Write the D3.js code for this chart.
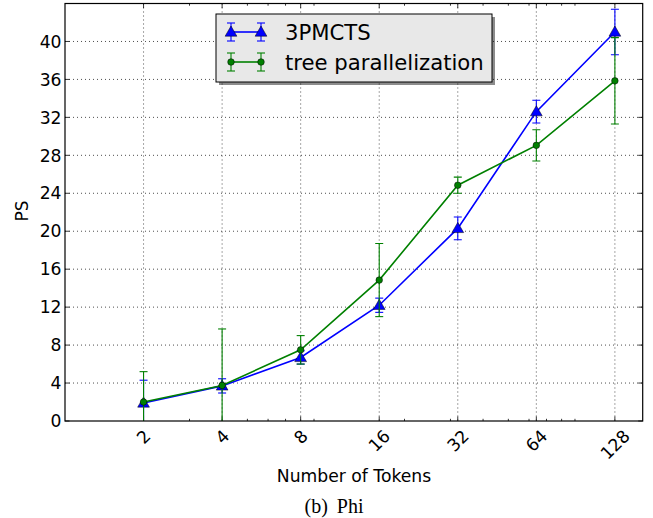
<!DOCTYPE html>
<html>
<head>
<meta charset="utf-8">
<script src="https://cdn.jsdelivr.net/npm/d3@7"></script>
<style>
  body { margin: 0; background: #fff; }
  text { font-family: "DejaVu Sans", sans-serif; }
</style>
</head>
<body>
<svg id="chart" width="653" height="518"></svg>
<script>
// data
var tokens = [2, 4, 8, 16, 32, 64, 128];
var mctsMean = [1.9, 3.7, 6.7, 12.2, 20.3, 32.6, 41.0];
var mctsErr = [2.4, 0.75, 0.7, 0.75, 1.2, 1.2, 2.4];
var treeMean = [2.0, 3.75, 7.5, 14.85, 24.85, 29.05, 35.85];
var treeErr = [3.2, 5.95, 1.5, 3.85, 0.85, 1.65, 4.55];
var yTicks = [0, 4, 8, 12, 16, 20, 24, 28, 32, 36, 40];
var xMinor = [3, 5, 6, 7, 9, 20, 30, 40, 50, 60, 70, 80, 90];

var series = [
    { name: "3PMCTS", color: "#0000ff", marker: "triangle", mean: mctsMean, err: mctsErr },
    { name: "tree parallelization", color: "#008000", marker: "circle", mean: treeMean, err: treeErr }
];

// plot box (note: "top" is taken by window.top)
var pLeft = 65, pRight = 642.7, pTop = 3.5, pBottom = 421;

var x = d3.scaleLog().base(2).domain([1, 163.6]).range([pLeft, pRight]);
var y = d3.scaleLinear().domain([0, 44]).range([pBottom, pTop]);

var svg = d3.select("#chart");

svg.append("clipPath").attr("id", "plotclip")
    .append("rect")
    .attr("x", pLeft).attr("y", pTop)
    .attr("width", pRight - pLeft).attr("height", pBottom - pTop);

// grid
var grid = svg.append("g")
    .attr("stroke", "#000")
    .attr("stroke-width", 0.7)
    .attr("stroke-dasharray", "1,3");
grid.selectAll("line.gx").data(tokens).enter().append("line")
    .attr("x1", function (d) { return x(d); }).attr("x2", function (d) { return x(d); })
    .attr("y1", pTop).attr("y2", pBottom);
grid.selectAll("line.gy").data(yTicks.slice(1)).enter().append("line")
    .attr("y1", function (d) { return y(d); }).attr("y2", function (d) { return y(d); })
    .attr("x1", pLeft).attr("x2", pRight);

// inward ticks on all four sides
var ticks = svg.append("g").attr("stroke", "#000").attr("stroke-width", 0.8);
tokens.forEach(function (t) {
    ticks.append("line").attr("x1", x(t)).attr("x2", x(t)).attr("y1", pBottom).attr("y2", pBottom - 4.5);
    ticks.append("line").attr("x1", x(t)).attr("x2", x(t)).attr("y1", pTop).attr("y2", pTop + 4.5);
});
xMinor.forEach(function (t) {
    ticks.append("line").attr("x1", x(t)).attr("x2", x(t)).attr("y1", pBottom).attr("y2", pBottom - 2.2);
    ticks.append("line").attr("x1", x(t)).attr("x2", x(t)).attr("y1", pTop).attr("y2", pTop + 2.2);
});
yTicks.forEach(function (v) {
    ticks.append("line").attr("x1", pLeft).attr("x2", pLeft + 4.5).attr("y1", y(v)).attr("y2", y(v));
    ticks.append("line").attr("x1", pRight).attr("x2", pRight - 4.5).attr("y1", y(v)).attr("y2", y(v));
});

// y tick labels
svg.append("g").selectAll("text").data(yTicks).enter().append("text")
    .attr("x", pLeft - 3.5)
    .attr("y", function (d) { return y(d); })
    .attr("dy", "0.36em")
    .attr("text-anchor", "end")
    .attr("font-size", 17.2)
    .text(function (d) { return d; });

// x tick labels, rotated 45 degrees, bbox centred under the tick
var xl = svg.append("g");
tokens.forEach(function (t) {
    var txt = xl.append("text")
        .attr("font-size", 17.2)
        .attr("text-anchor", "middle")
        .attr("dy", "0.36em")
        .text(t);
    var w = txt.node().getComputedTextLength();
    var h = 12.5;
    var half = (w + h) * Math.SQRT1_2 / 2;
    var cx = x(t), cy = 428.5 + half;
    txt.attr("transform", "translate(" + cx + "," + cy + ") rotate(-45)");
});

// axis labels
svg.append("text")
    .attr("transform", "translate(28,211) rotate(-90)")
    .attr("text-anchor", "middle")
    .attr("font-size", 17)
    .text("PS");
svg.append("text")
    .attr("x", 354).attr("y", 482)
    .attr("text-anchor", "middle")
    .attr("font-size", 17.2)
    .text("Number of Tokens");
svg.append("text")
    .attr("x", 334).attr("y", 513)
    .attr("text-anchor", "middle")
    .attr("font-size", 20)
    .attr("word-spacing", 4)
    .style("font-family", "'Liberation Serif', 'Times New Roman', serif")
    .text("(b) Phi");

var tri = d3.symbol().type(d3.symbolTriangle).size(60);

function drawMarker(g, s, cx, cy) {
    if (s.marker === "triangle") {
        g.append("path")
            .attr("d", tri())
            .attr("transform", "translate(" + cx + "," + (cy + 0.8) + ")")
            .attr("fill", s.color)
            .attr("stroke", "#000")
            .attr("stroke-width", 0.5);
    } else {
        g.append("circle")
            .attr("cx", cx).attr("cy", cy).attr("r", 3.3)
            .attr("fill", s.color)
            .attr("stroke", "#000")
            .attr("stroke-width", 0.5);
    }
}

function drawErr(g, s, cx, y1, y2) {
    g.append("line").attr("x1", cx).attr("x2", cx).attr("y1", y1).attr("y2", y2)
        .attr("stroke", s.color).attr("stroke-width", 1.1);
    [y1, y2].forEach(function (yy) {
        g.append("line").attr("x1", cx - 4).attr("x2", cx + 4).attr("y1", yy).attr("y2", yy)
            .attr("stroke", s.color).attr("stroke-width", 1.1);
    });
}

var plot = svg.append("g").attr("clip-path", "url(#plotclip)");
var line = d3.line()
    .x(function (d) { return x(d[0]); })
    .y(function (d) { return y(d[1]); });

series.forEach(function (s) {
    var g = plot.append("g");
    var pts = tokens.map(function (t, i) { return [t, s.mean[i]]; });
    g.append("path")
        .attr("d", line(pts))
        .attr("fill", "none")
        .attr("stroke", s.color)
        .attr("stroke-width", 1.6);
    tokens.forEach(function (t, i) {
        drawErr(g, s, x(t), y(s.mean[i] + s.err[i]), y(s.mean[i] - s.err[i]));
    });
    tokens.forEach(function (t, i) {
        drawMarker(g, s, x(t), y(s.mean[i]));
    });
});

// frame
svg.append("rect")
    .attr("x", pLeft).attr("y", pTop)
    .attr("width", pRight - pLeft).attr("height", pBottom - pTop)
    .attr("fill", "none").attr("stroke", "#000").attr("stroke-width", 1.2);

// legend
var lg = svg.append("g");
lg.append("rect")
    .attr("x", 219).attr("y", 17).attr("width", 276).attr("height", 68)
    .attr("fill", "#000").attr("opacity", 0.45);
lg.append("rect")
    .attr("x", 216).attr("y", 14).attr("width", 276).attr("height", 68)
    .attr("fill", "#e8e8e8").attr("stroke", "#000").attr("stroke-width", 1);
series.forEach(function (s, i) {
    var ly = 32 + i * 30;
    var g = lg.append("g");
    g.append("line").attr("x1", 231).attr("x2", 261).attr("y1", ly).attr("y2", ly)
        .attr("stroke", s.color).attr("stroke-width", 1.6);
    [231, 261].forEach(function (lx) {
        drawErr(g, s, lx, ly - 9, ly + 9);
        drawMarker(g, s, lx, ly);
    });
    g.append("text")
        .attr("x", 285).attr("y", ly)
        .attr("dy", "0.36em")
        .attr("font-size", 21.2)
        .text(s.name);
});
</script>
</body>
</html>
